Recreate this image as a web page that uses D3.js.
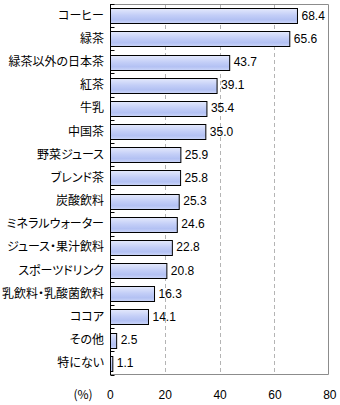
<!DOCTYPE html>
<html>
<head>
<meta charset="utf-8">
<script src="https://cdn.jsdelivr.net/npm/d3@7/dist/d3.min.js"></script>
<style>
  html, body { margin: 0; padding: 0; background: #fff; }
  svg { display: block; }
  .cat { font-feature-settings: "palt" 1; }
</style>
</head>
<body>
<svg id="chart" width="340" height="405"></svg>
<script>
// Drinks consumed (%), one bar per category
const categories = [
  "コーヒー", "緑茶", "緑茶以外の日本茶", "紅茶", "牛乳", "中国茶",
  "野菜ジュース", "ブレンド茶", "炭酸飲料", "ミネラルウォーター",
  "ジュース・果汁飲料", "スポーツドリンク", "乳飲料・乳酸菌飲料",
  "ココア", "その他", "特にない"
];
const values = [68.4, 65.6, 43.7, 39.1, 35.4, 35.0, 25.9, 25.8, 25.3, 24.6,
                22.8, 20.8, 16.3, 14.1, 2.5, 1.1];
const xTicks = [0, 20, 40, 60, 80];
const unitLabel = "(%)";

(function () {
const svg = d3.select("#chart");
const plotLeft = 110.5, plotRight = 328, plotTop = 4, plotBottom = 374.5;

const x = d3.scaleLinear().domain([0, 80]).range([109.8, 329.3]);
const y = d3.scaleBand().domain(categories).range([plotTop, plotBottom]).paddingInner(0.37).paddingOuter(0.18);

// Bar gradient
const defs = svg.append("defs");
const grad = defs.append("linearGradient").attr("id", "barFill")
  .attr("x1", 0).attr("y1", 0).attr("x2", 0).attr("y2", 1);
grad.append("stop").attr("offset", "0%").attr("stop-color", "#e4e9fc");
grad.append("stop").attr("offset", "45%").attr("stop-color", "#c3cef7");
grad.append("stop").attr("offset", "75%").attr("stop-color", "#b3c1f3");
grad.append("stop").attr("offset", "100%").attr("stop-color", "#ccd6f8");

// Dashed gridlines
svg.append("g").selectAll("line").data(xTicks.filter(d => d > 0 && d < 80)).join("line")
  .attr("x1", d => Math.round(x(d)) + 0.5).attr("x2", d => Math.round(x(d)) + 0.5)
  .attr("y1", plotTop).attr("y2", plotBottom)
  .attr("stroke", "#b4b4b4").attr("stroke-dasharray", "4,3");

// Frame: top, right, bottom in gray
svg.append("path")
  .attr("d", `M${plotLeft},${plotTop + 0.5}H${plotRight + 0.5}V${plotBottom}H${plotLeft}`)
  .attr("fill", "none").attr("stroke", "#8c8c8c");

// Bars
svg.append("g").selectAll("rect").data(values).join("rect")
  .attr("x", plotLeft)
  .attr("y", (d, i) => Math.round(y(categories[i])) + 0.5)
  .attr("width", d => x(d) - plotLeft)
  .attr("height", Math.round(y.bandwidth()))
  .attr("fill", "url(#barFill)")
  .attr("stroke", "#000").attr("stroke-width", 1);

// Value labels
svg.append("g").selectAll("text").data(values).join("text")
  .attr("x", d => x(d) + 4)
  .attr("y", (d, i) => y(categories[i]) + y.bandwidth() / 2)
  .attr("dy", "0.36em")
  .attr("font-family", "Liberation Sans, Arial, sans-serif")
  .attr("font-size", 12)
  .attr("fill", "#000")
  .text(d => d.toFixed(1));

// Category axis with inward ticks at band boundaries
const step = (plotBottom - plotTop) / categories.length;
svg.append("g").selectAll("line").data(d3.range(0, categories.length + 1)).join("line")
  .attr("x1", plotLeft).attr("x2", plotLeft + 4)
  .attr("y1", i => Math.round(plotTop + i * step) + 0.5)
  .attr("y2", i => Math.round(plotTop + i * step) + 0.5)
  .attr("stroke", "#000");
svg.append("line")
  .attr("x1", plotLeft).attr("x2", plotLeft)
  .attr("y1", plotTop).attr("y2", plotBottom + 0.5)
  .attr("stroke", "#000");

svg.append("g").selectAll("text").data(categories).join("text")
  .attr("class", "cat")
  .attr("x", 104)
  .attr("y", d => y(d) + y.bandwidth() / 2)
  .attr("dy", "0.36em")
  .attr("text-anchor", "end")
  .attr("font-family", "Noto Sans CJK JP, sans-serif")
  .attr("font-size", 12)
  .attr("fill", "#000")
  .text(d => d);

// Value axis
const xAxis = d3.axisBottom(x).tickValues(xTicks).tickSize(0).tickPadding(0);
const gx = svg.append("g").attr("transform", `translate(0,${plotBottom})`).call(xAxis);
gx.select(".domain").remove();
gx.selectAll("text")
  .attr("y", 20.5)
  .attr("dy", "0.36em")
  .attr("font-family", "Liberation Sans, Arial, sans-serif")
  .attr("font-size", 12)
  .attr("fill", "#000");

svg.append("text")
  .attr("class", "cat")
  .attr("x", 83).attr("y", plotBottom + 20.5).attr("dy", "0.36em")
  .attr("text-anchor", "middle")
  .attr("font-family", "Noto Sans CJK JP, sans-serif")
  .attr("font-size", 12)
  .text(unitLabel);
})();
</script>
</body>
</html>
